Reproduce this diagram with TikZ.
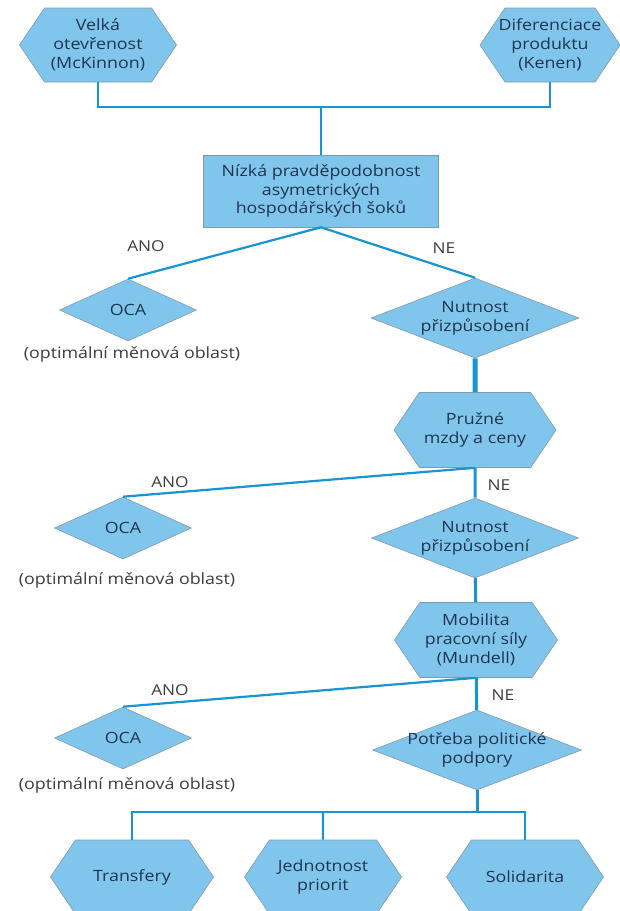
\documentclass[tikz,border=0pt]{standalone}
\usepackage{fontspec}
\setmainfont{Open Sans}[FakeStretch=1.15]
\usetikzlibrary{shapes.geometric,shapes.symbols,calc}
\definecolor{ocafill}{RGB}{128,198,236}
\definecolor{ocaedge}{RGB}{128,152,170}
\definecolor{ocaline}{RGB}{24,148,210}
\definecolor{ocatext}{RGB}{32,52,80}
\definecolor{ocagray}{RGB}{60,60,60}
\newcommand{\clrone}{ocafill}
\newcommand{\clrtwo}{ocaline}

\begin{document}
\begin{tikzpicture}[x=1pt, y=-1pt,
    hexa/.style={signal, signal to=west and east, signal pointer angle=112,
        fill=\clrone, draw=ocaedge, line width=0.6pt, text=ocatext, align=center,
        inner ysep=0pt, inner xsep=-20pt, minimum height=74pt,
        font=\fontsize{15.5}{19}\selectfont},
    boxa/.style={rectangle, fill=\clrone, draw=ocaedge, line width=0.6pt, text=ocatext,
        align=center, minimum width=235pt, minimum height=72pt,
        font=\fontsize{15.5}{18.5}\selectfont},
    dia/.style={diamond, aspect=2.6, fill=\clrone, draw=ocaedge, line width=0.6pt,
        text=ocatext, align=center, inner sep=-14pt, minimum height=80pt,
        font=\fontsize{15.5}{19}\selectfont},
    note/.style={text=ocagray, font=\fontsize{15.5}{19}\selectfont},
    lbl/.style={text=ocagray, font=\fontsize{15}{18}\selectfont},
    conn/.style={draw=\clrtwo, line width=2.2pt},
    vconn/.style={draw=\clrtwo, line width=3pt}]
    \useasboundingbox (0,0) rectangle (619,911);

    \node[hexa, minimum width=157pt] (velka) at (98,45) {Velká\\otevřenost\\(McKinnon)};
    \node[hexa, minimum width=140pt] (dif) at (550,45) {Diferenciace\\produktu\\(Kenen)};
    \node[boxa] (nizka) at (321,191) {Nízká pravděpodobnost\\asymetrických\\hospodářských šoků};

    \node[dia, minimum width=208pt] (nut1) at (475,318) {Nutnost\\přizpůsobení};
    \node[hexa, minimum width=162pt, minimum height=75pt] (pruzne) at (475,430) {Pružné\\mzdy a ceny};
    \node[dia, minimum width=207pt] (nut2) at (475,538) {Nutnost\\přizpůsobení};
    \node[hexa, minimum width=163pt, minimum height=75pt] (mobil) at (476,640) {Mobilita\\pracovní síly\\(Mundell)};
    \node[dia, minimum width=209pt] (potreba) at (477,750) {Potřeba politické\\podpory};

    \foreach \i/\x/\y/\c in {1/128/310/354, 2/123/528/580, 3/123/738/785} {
        \node[dia, minimum width=137pt, minimum height=62pt] (oca\i) at (\x,\y) {OCA};
        \node[note] (opt\i) at (\x+4,\c) {(optimální měnová oblast)};
    }

    \node[hexa, minimum width=163pt] (transfery) at (132,877) {Transfery};
    \node[hexa, minimum width=157pt] (jednot) at (323,877) {Jednotnost\\priorit};
    \node[hexa, minimum width=157pt] (solid) at (525,877) {Solidarita};

    \node[lbl] (ano1) at (146,246) {ANO};
    \node[lbl] (ne1) at (444,248) {NE};
    \node[lbl] (ano2) at (170,482) {ANO};
    \node[lbl] (ne2) at (499,485) {NE};
    \node[lbl] (ano3) at (170,690) {ANO};
    \node[lbl] (ne3) at (503,695) {NE};

    % spojnice
    \coordinate (top) at (321,107);
    \coordinate (bot) at (477,812);
    \draw[conn] (velka) |- (top) -| (dif);
    \draw[conn] (top) -- (nizka);
    \draw[conn] (oca1.north) -- (nizka.south) -- (nut1.north);
    \draw[conn, line width=5pt] (nut1) -- (pruzne);
    \draw[conn] (oca2.north) -- (pruzne.south);
    \draw[vconn] (pruzne) -- (nut2);
    \draw[vconn] (nut2) -- (mobil);
    \draw[conn] (oca3.north) -- (mobil.south);
    \draw[vconn] (mobil) -- (potreba);
    \draw[vconn] (potreba) -- (bot);
    \draw[conn] (transfery) |- (bot) -| (solid);
    \draw[conn] (jednot) -- (jednot |- bot);

\end{tikzpicture}
\end{document}
